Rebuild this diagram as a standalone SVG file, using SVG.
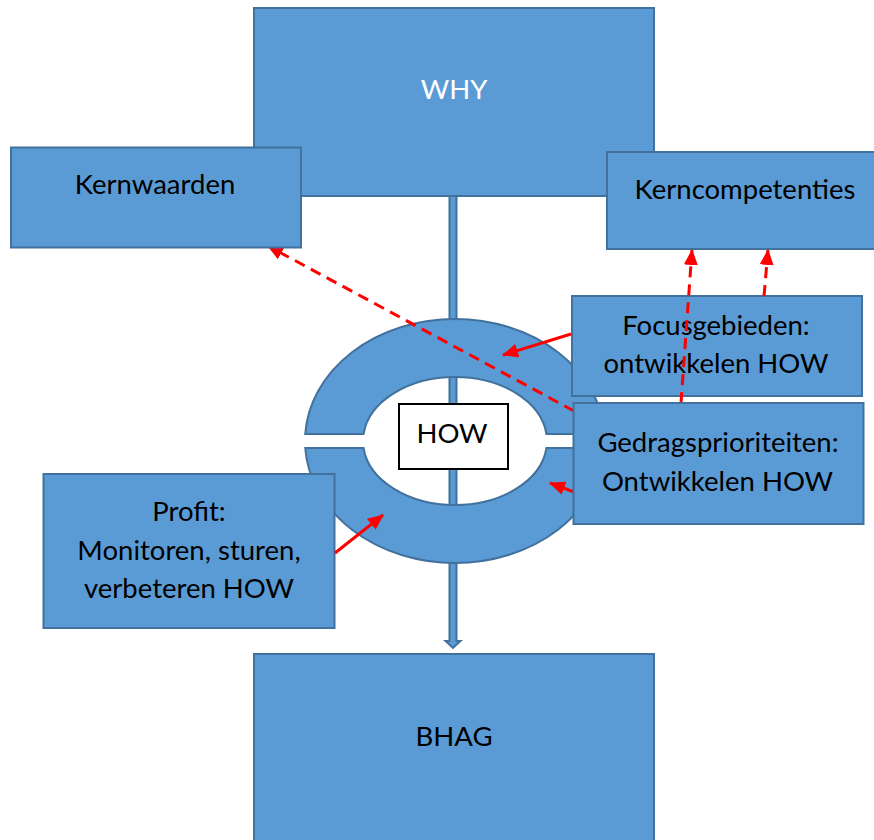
<svg xmlns="http://www.w3.org/2000/svg" width="874" height="840" viewBox="0 0 874 840">
<style>
.box{fill:#5B9BD5;stroke:#41719C;stroke-width:2}
.t{font-family:Lato,"Liberation Sans",sans-serif;font-size:27.5px;fill:#000;text-anchor:middle}
.w{fill:#fff}
.red{stroke:#FF0000;stroke-width:3;fill:none}
.dash{stroke-dasharray:11 7}
</style>
<defs>
<marker id="ah" viewBox="0 0 16 14" refX="15" refY="7" markerWidth="16" markerHeight="14" markerUnits="userSpaceOnUse" orient="auto">
<path d="M0,0 L16,7 L0,14 Z" fill="#FF0000"/>
</marker>
</defs>
<rect width="874" height="840" fill="#fff"/>
<g id="why"><rect class="box" x="254" y="8" width="400" height="188"/><text class="t w" x="454" y="99">WHY</text></g>
<g id="bhag"><rect class="box" x="254" y="654" width="400" height="200"/><text class="t" x="454" y="746">BHAG</text></g>
<g id="connectors-main">
<path class="box" d="M449.5,196 L456.5,196 L456.5,641 L460.5,641 L453,648 L445.5,641 L449.5,641 Z"/>
</g>
<g id="ring">
<path class="box" d="M305.25,434 A150,122 0 0 1 604.75,434 L546.45,434 A92,64 0 0 0 363.55,434 Z"/>
<path class="box" d="M305.25,448 A150,122 0 0 0 604.75,448 L546.45,448 A92,64 0 0 1 363.55,448 Z"/>
</g>
<g id="how"><rect x="399" y="404" width="109" height="65" fill="#fff" stroke="#000" stroke-width="2"/><text class="t" x="452" y="443">HOW</text></g>
<g id="focus"><rect class="box" x="572" y="296" width="290" height="100"/><text class="t" x="716" y="335">Focusgebieden:</text><text class="t" x="716" y="373">ontwikkelen HOW</text></g>
<g id="profit"><rect class="box" x="43.5" y="474" width="291" height="154"/><text class="t" x="189" y="521">Profit:</text><text class="t" x="189" y="560">Monitoren, sturen,</text><text class="t" x="189" y="598">verbeteren HOW</text></g>
<g id="connectors">
<line class="red dash" x1="574" y1="411" x2="268" y2="246" marker-end="url(#ah)"/>
<line class="red dash" x1="681" y1="403" x2="692" y2="250" marker-end="url(#ah)"/>
<line class="red dash" x1="764" y1="296" x2="768" y2="250" marker-end="url(#ah)"/>
<line class="red" x1="571" y1="334" x2="503" y2="355" marker-end="url(#ah)"/>
<line class="red" x1="606" y1="504" x2="550" y2="483" marker-end="url(#ah)"/>
<line class="red" x1="335" y1="553" x2="383" y2="515" marker-end="url(#ah)"/>
</g>
<g id="kernwaarden"><rect class="box" x="11" y="147.5" width="290" height="100"/><text class="t" x="155" y="194">Kernwaarden</text></g>
<g id="kerncompetenties"><rect class="box" x="607" y="152" width="275" height="97"/><text class="t" x="745" y="199">Kerncompetenties</text></g>
<g id="gedrag"><rect class="box" x="573.5" y="403" width="290" height="121"/><text class="t" x="718" y="452">Gedragsprioriteiten:</text><text class="t" x="717.5" y="491">Ontwikkelen HOW</text></g>
</svg>
